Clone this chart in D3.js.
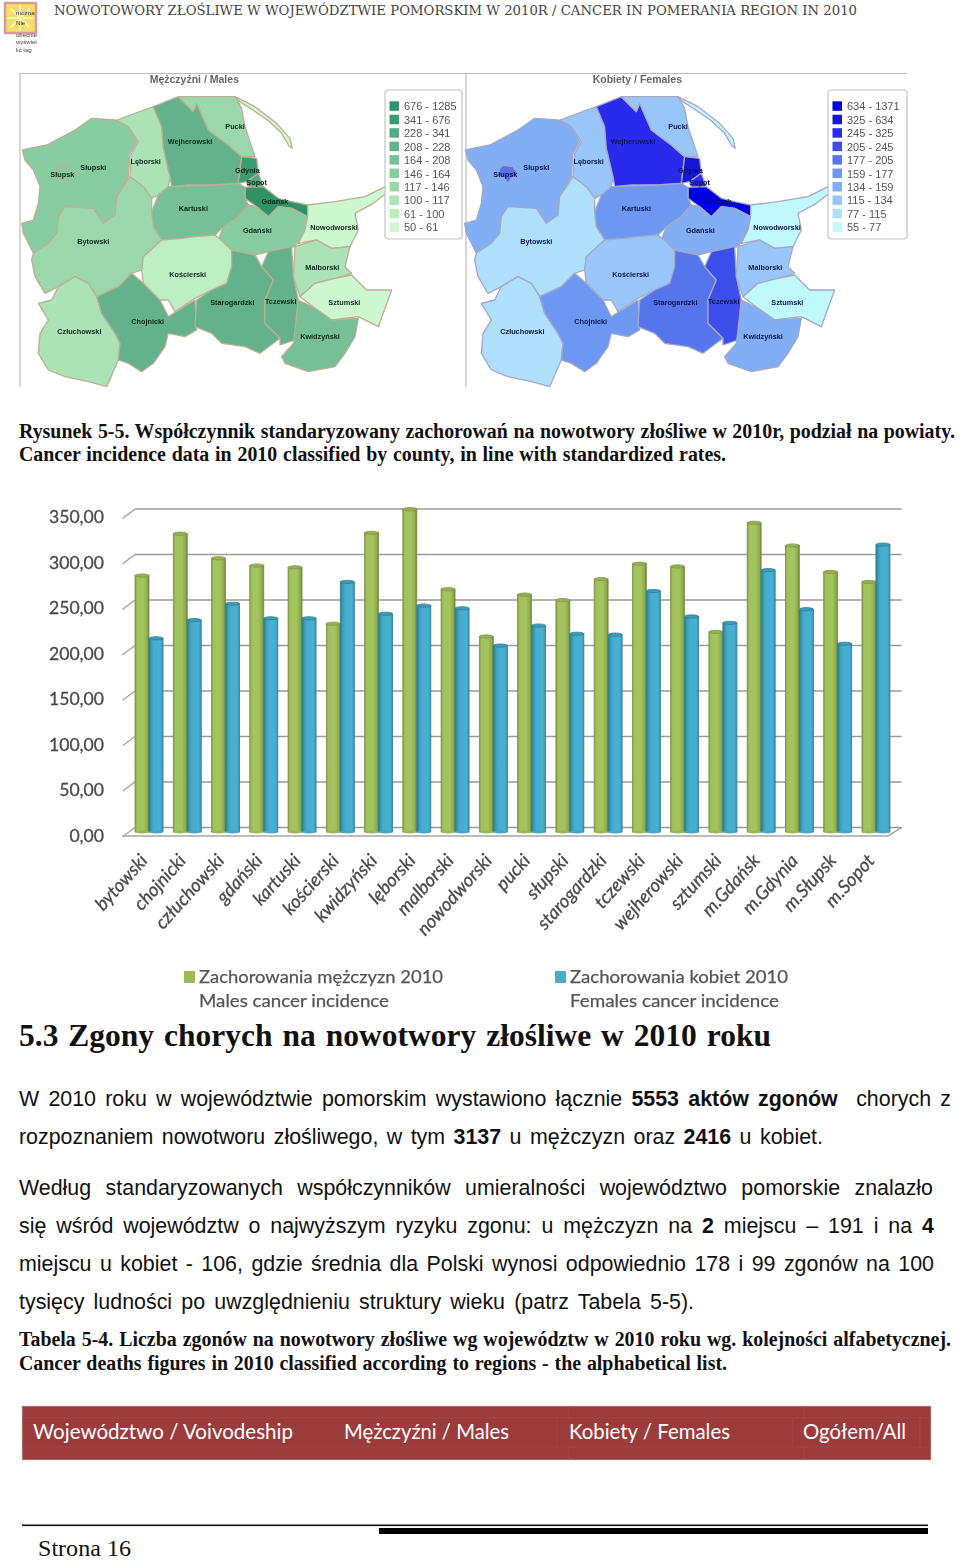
<!DOCTYPE html>
<html><head><meta charset="utf-8">
<script src="https://cdn.jsdelivr.net/npm/d3@7"></script>
<style>html,body{margin:0;padding:0;background:#fff}svg{display:block}</style>
</head><body><svg id="page" width="960" height="1560"></svg>
<script>
// ---- bar chart data ----
const counties=["bytowski","chojnicki","człuchowski","gdański","kartuski","kościerski","kwidzyński","lęborski","malborski","nowodworski","pucki","słupski","starogardzki","tczewski","wejherowski","sztumski","m.Gdańsk","m.Gdynia","m.Słupsk","m.Sopot"];
const maleIncidence=[282,328,301,293,291,229,329,355,267,215,261,255,278,295,292,220,340,315,286,275];
const femaleIncidence=[213,233,251,235,235,275,240,249,246,205,227,218,217,265,237,230,288,245,207,316];
const yTicks=[0,50,100,150,200,250,300,350];
// ---- map legends ----
const maleLegend=["676 - 1285","341 - 676","228 - 341","208 - 228","164 - 208","146 - 164","117 - 146","100 - 117","61 - 100","50 - 61"];
const femaleLegend=["634 - 1371","325 - 634","245 - 325","205 - 245","177 - 205","159 - 177","134 - 159","115 - 134","77 - 115","55 - 77"];
const maleColors=["#2f9466","#3a9c70","#55a983","#63b28c","#76bf97","#88cda2","#9ad8ac","#abe3b6","#bdeec2","#cdf7cf"];
const femaleColors=["#0000e0","#1414d8","#2a2cec","#3d50ea","#5574ec","#6d98f2","#82aef6","#98c6fa","#aee0fc","#bff8fd"];
// ---- map geometry (map units) and class per county ----
const regions=[
 {n:"",m:9,f:9,p:[[660,80],[720,110],[785,160],[825,205],[832,235],[822,228],[800,190],[760,152],[710,118],[670,92]],l:[0,0]},
 {n:"Słupski",m:5,f:6,p:[[22,240],[95,225],[180,180],[230,145],[300,150],[340,170],[365,215],[345,250],[340,320],[305,380],[300,435],[265,460],[235,415],[150,410],[130,440],[125,490],[100,520],[55,550],[25,490],[20,460],[55,450],[70,400],[75,350],[55,300],[30,270]],l:[235,292]},
 {n:"Lęborski",m:7,f:7,p:[[305,150],[415,110],[440,170],[445,235],[465,320],[460,350],[430,375],[410,385],[385,350],[360,330],[345,320],[350,250],[370,215],[340,170]],l:[392,275]},
 {n:"Wejherowski",m:3,f:2,p:[[415,110],[490,80],[535,125],[545,100],[580,180],[640,225],[680,260],[670,340],[600,345],[520,345],[470,350],[465,320],[445,235],[440,170]],l:[525,215]},
 {n:"Pucki",m:6,f:7,p:[[490,80],[660,80],[680,115],[690,170],[720,260],[680,260],[640,225],[580,180],[545,100],[535,125]],l:[660,170]},
 {n:"Gdynia",m:1,f:1,p:[[680,260],[725,265],[730,310],[695,335],[670,340]],l:[697,300]},
 {n:"Sopot",m:2,f:2,p:[[695,335],[730,310],[745,350],[700,352]],l:[725,338]},
 {n:"Gdańsk",m:0,f:0,p:[[690,352],[745,350],[790,385],[830,395],[878,405],[878,440],[830,415],[790,410],[760,440],[725,410],[690,385]],l:[780,393]},
 {n:"Kartuski",m:4,f:5,p:[[470,350],[600,345],[670,340],[690,352],[690,385],[700,405],[670,440],[625,470],[600,495],[540,500],[500,505],[440,510],[415,470],[410,425],[430,375],[460,350]],l:[535,415]},
 {n:"Gdański",m:5,f:6,p:[[700,405],[725,410],[760,440],[790,410],[830,415],[878,440],[870,480],[840,530],[760,545],[720,555],[650,540],[612,505],[625,470],[670,440]],l:[727,480]},
 {n:"Nowodworski",m:9,f:9,p:[[878,405],[960,395],[1050,380],[1130,340],[1140,350],[1075,400],[1020,430],[1030,480],[1005,530],[950,535],[905,510],[850,520],[870,480],[878,440]],l:[957,473]},
 {n:"Bytowski",m:6,f:8,p:[[345,320],[385,350],[410,385],[410,425],[415,470],[440,510],[385,560],[380,600],[350,610],[310,650],[245,680],[220,640],[180,620],[130,650],[90,670],[60,620],[50,570],[55,550],[100,520],[125,490],[130,440],[150,410],[235,415],[265,460],[300,435],[305,380]],l:[235,515]},
 {n:"Człuchowski",m:7,f:8,p:[[180,620],[220,640],[245,680],[260,730],[300,790],[315,820],[310,870],[275,950],[220,935],[150,920],[100,900],[70,850],[75,790],[100,750],[70,700],[110,690],[130,650]],l:[193,785]},
 {n:"Chojnicki",m:3,f:5,p:[[350,610],[385,640],[435,690],[460,740],[540,690],[545,780],[510,800],[460,790],[450,830],[415,880],[380,905],[340,880],[310,870],[315,820],[300,790],[260,730],[245,680],[310,650]],l:[398,755]},
 {n:"Kościerski",m:8,f:7,p:[[440,510],[500,505],[540,500],[600,495],[612,505],[650,540],[650,590],[635,640],[590,660],[540,685],[480,725],[460,690],[435,690],[385,640],[380,600],[385,560]],l:[518,613]},
 {n:"Starogardzki",m:3,f:4,p:[[650,540],[720,555],[740,590],[775,630],[750,690],[750,760],[795,805],[735,850],[690,830],[620,820],[590,790],[540,770],[545,690],[590,660],[635,640],[650,590]],l:[652,697]},
 {n:"Tczewski",m:3,f:3,p:[[760,545],[830,530],[835,620],[850,690],[840,810],[795,825],[795,805],[750,760],[750,690],[775,630],[740,590]],l:[797,693]},
 {n:"Malborski",m:7,f:7,p:[[840,530],[905,510],[950,535],[1005,530],[990,590],[1010,610],[960,625],[900,640],[855,680],[835,620]],l:[922,591]},
 {n:"Sztumski",m:9,f:9,p:[[855,680],[900,640],[960,625],[1010,615],[1055,660],[1130,660],[1090,770],[1030,740],[950,750],[900,715]],l:[988,697]},
 {n:"Kwidzyński",m:4,f:6,p:[[850,690],[900,715],[950,750],[1030,745],[1020,800],[990,850],[960,890],[880,905],[810,880],[800,860],[835,820],[840,780]],l:[915,798]},
 {n:"Słupsk",m:5,f:4,p:[[125,295],[135,285],[165,290],[180,310],[160,325],[150,342],[140,325],[120,318]],l:[142,312]}
];
const headerTitle="NOWOTOWORY ZŁOŚLIWE W WOJEWÓDZTWIE POMORSKIM W 2010R / CANCER IN POMERANIA REGION IN 2010";

const svg=d3.select("#page");
const defs=svg.append("defs");
function blur(id,s){defs.append("filter").attr("id",id).attr("x","-5%").attr("y","-5%").attr("width","110%").attr("height","110%")
  .append("feGaussianBlur").attr("stdDeviation",s);}
blur("soft",0.6);blur("mapBlur",0.6);blur("labBlur",0.35);

function grad(id,stops){const g=defs.append("linearGradient").attr("id",id).attr("x1",0).attr("x2",1).attr("y1",0).attr("y2",0);
  stops.forEach(s=>g.append("stop").attr("offset",s[0]).attr("stop-color",s[1]));}
grad("gGreen",[[0,"#7f9a45"],[.14,"#a2c05c"],[.6,"#a6c45e"],[.88,"#8cab4c"],[1,"#5f7d36"]]);
grad("gBlue",[[0,"#2d7a8e"],[.2,"#3f9fbb"],[.35,"#45adcf"],[.8,"#48b0d2"],[1,"#3a93b0"]]);

// ---- header ----
const ic=svg.append("g").attr("filter","url(#labBlur)");
ic.append("rect").attr("x",5).attr("y",3).attr("width",31).attr("height",30).attr("fill","#f2df6a").attr("stroke","#d79a9f").attr("stroke-width",2.5);
const icRay=d3.range(0,8).map(i=>i*Math.PI/4);
ic.selectAll("line").data(icRay).join("line").attr("x1",20).attr("y1",18).attr("x2",d=>20+13*Math.cos(d)).attr("y2",d=>18+13*Math.sin(d)).attr("stroke","#faf3b8").attr("stroke-width",2);
[["można",16,15],["Nie",16,25]].forEach(t=>ic.append("text").attr("x",t[1]).attr("y",t[2]).attr("font-family","Liberation Sans").attr("font-size",6.2).attr("fill","#333").text(t[0]));
[["obecnie",16,37],["wyświet",16,44],["lić tag",16,52]].forEach(t=>ic.append("text").attr("x",t[1]).attr("y",t[2]).attr("font-family","Liberation Sans").attr("font-size",6).attr("fill","#444").text(t[0]));
svg.append("text").attr("x",54).attr("y",15).attr("font-family","DejaVu Serif").attr("font-size",13).attr("fill","#444")
  .attr("textLength",803).attr("lengthAdjust","spacingAndGlyphs").text(headerTitle);

// ---- maps ----
const mapG=svg.append("g").attr("filter","url(#mapBlur)");
mapG.append("path").attr("d","M20 387V73.5H907M466 73.5V387").attr("fill","none").attr("stroke","#bdbdbd").attr("stroke-width",1.2);
const mx=d3.scaleLinear().domain([0,1140]).range([0,380]);
const my=d3.scaleLinear().domain([0,960]).range([0,320]);
const poly=d3.line().x(d=>mx(d[0])).y(d=>my(d[1])).curve(d3.curveLinearClosed);
function drawMap(dx,key,colors,legend,stroke,title,legendDx,textDx){
  const g=mapG.append("g").attr("transform",`translate(${dx},70)`);
  g.selectAll("path").data(regions).join("path").attr("d",d=>poly(d.p)).attr("fill",d=>colors[d[key]]).attr("stroke",stroke).attr("stroke-width",1.3).attr("stroke-linejoin","round");
  g.selectAll("text.r").data(regions.filter(d=>d.n)).join("text").attr("class","r").attr("x",d=>mx(d.l[0])).attr("y",d=>my(d.l[1])+2.5)
   .attr("text-anchor","middle").attr("font-family","Liberation Sans").attr("font-weight","bold").attr("font-size",7.3).attr("fill",key==="m"?"#0c2a1a":"#0a1850").text(d=>d.n);
  g.append("text").attr("x",mx(538)).attr("y",my(40)).attr("text-anchor","middle").attr("font-family","Liberation Sans").attr("font-size",10.5).attr("font-weight","bold").attr("fill","#666").text(title);
  const lg=mapG.append("g").attr("transform",`translate(${legendDx},0)`);
  lg.append("rect").attr("x",385).attr("y",90).attr("width",key==="m"?77:79).attr("height",149).attr("rx",3).attr("fill","#fff").attr("stroke","#c4c4c4").attr("stroke-width",1.2);
  const ly=d3.scaleBand().domain(d3.range(10)).range([99.5,234]);
  lg.selectAll("rect.s").data(legend).join("rect").attr("class","s").attr("x",389.5).attr("y",(d,i)=>ly(i)+1.8).attr("width",9.5).attr("height",9.5).attr("fill",(d,i)=>colors[i]);
  lg.selectAll("text.t").data(legend).join("text").attr("class","t").attr("x",404+textDx).attr("y",(d,i)=>ly(i)+10.8).attr("font-family","Liberation Sans").attr("font-size",11).attr("fill","#555").text(d=>d);
}
drawMap(15,"m",maleColors,maleLegend,"#bdae96","Mężczyźni / Males",0,0);
drawMap(458,"f",femaleColors,femaleLegend,"#a7a7c4","Kobiety / Females",443,0);

// ---- captions and body text ----
const textLines=[
 {y:438,w:936,f:"Liberation Serif",s:19.9,t:[["Rysunek 5-5. Współczynnik standaryzowany zachorowań na nowotwory złośliwe w 2010r, podział na powiaty.",1]]},
 {y:461,w:707,f:"Liberation Serif",s:19.9,t:[["Cancer incidence data in 2010 classified by county, in line with standardized rates.",1]]},
 {y:1046,w:752,f:"Liberation Serif",s:31.5,t:[["5.3 Zgony chorych na nowotwory złośliwe w 2010 roku",1]]},
 {y:1105.5,w:932,f:"Liberation Sans",s:21.4,t:[["W 2010 roku w województwie pomorskim wystawiono łącznie ",0],["5553 aktów zgonów",1],["  chorych z",0]]},
 {y:1143.5,w:804,f:"Liberation Sans",s:21.4,t:[["rozpoznaniem nowotworu złośliwego, w tym ",0],["3137",1],[" u mężczyzn oraz ",0],["2416",1],[" u kobiet.",0]]},
 {y:1194.5,w:914,f:"Liberation Sans",s:21.4,t:[["Według standaryzowanych współczynników umieralności województwo pomorskie znalazło",0]]},
 {y:1232.5,w:915,f:"Liberation Sans",s:21.4,t:[["się wśród województw o najwyższym ryzyku zgonu: u mężczyzn na ",0],["2",1],[" miejscu – 191 i na ",0],["4",1]]},
 {y:1270.5,w:915,f:"Liberation Sans",s:21.4,t:[["miejscu u kobiet - 106, gdzie średnia dla Polski wynosi odpowiednio 178 i 99 zgonów na 100",0]]},
 {y:1308.5,w:675,f:"Liberation Sans",s:21.4,t:[["tysięcy ludności po uwzględnieniu struktury wieku (patrz Tabela 5-5).",0]]},
 {y:1346,w:932,f:"Liberation Serif",s:19.9,t:[["Tabela 5-4. Liczba zgonów na nowotwory złośliwe wg województw w 2010 roku wg. kolejności alfabetycznej.",1]]},
 {y:1370,w:708,f:"Liberation Serif",s:19.9,t:[["Cancer deaths figures in 2010 classified according to regions - the alphabetical list.",1]]}
];
textLines.forEach(l=>{
  const te=svg.append("text").attr("x",19).attr("y",l.y).attr("font-family",l.f).attr("font-size",l.s).attr("fill","#111").style("white-space","pre");
  l.t.forEach(r=>te.append("tspan").attr("font-weight",r[1]?"bold":"normal").text(r[0]));
  const n=te.node(), len=n.getComputedTextLength(), spaces=l.t.map(r=>r[0]).join("").split(" ").length-1;
  te.attr("word-spacing",(l.w-len)/spaces);
});

// ---- bar chart ----
const chartFont="Lato, 'Open Sans', sans-serif";
const chart=svg.append("g").attr("filter","url(#soft)");
const x=d3.scaleBand().domain(counties).range([129.87,895.07]).paddingInner(.268).paddingOuter(.134);
const xSeries=d3.scaleBand().domain(["m","f"]).range([0,x.bandwidth()]).padding(0);
const y=d3.scaleLinear().domain([0,350]).range([832,513.7]);
const depthDy=-4.6, labelDy=3.5;
// back-wall gridlines, depth stubs
const grid=chart.append("g");
grid.selectAll("line.g").data(yTicks).join("line").attr("class","g").attr("x1",135).attr("x2",901.7).attr("y1",d=>y(d)+depthDy).attr("y2",d=>y(d)+depthDy).attr("stroke","#9a9a9a").attr("stroke-width",1.5);
grid.selectAll("line.s").data(yTicks).join("line").attr("class","s").attr("x1",122.5).attr("x2",135).attr("y1",d=>y(d)+depthDy+9.3).attr("y2",d=>y(d)+depthDy).attr("stroke","#a8a8a8").attr("stroke-width",1.4);
// floor front edge
grid.append("path").attr("d",`M122.5 ${y(0)+4}H888L901.7 ${y(0)+depthDy}`).attr("fill","none").attr("stroke","#a5a5a5").attr("stroke-width",1.5);
// y axis
const yAxis=d3.axisLeft(y).tickValues(yTicks).tickSize(0).tickPadding(0).tickFormat(d=>d3.format(".2f")(d).replace(".",","));
const yg=chart.append("g").attr("transform",`translate(104,${labelDy})`).call(yAxis);
yg.select(".domain").remove();
yg.selectAll("text").attr("font-family",chartFont).attr("font-size",17.6).attr("fill","#4a4a4a").attr("stroke","#4a4a4a").attr("stroke-width",.3);
// bars
function drawBars(values,key,gradId,edge,top){
  const g=chart.append("g").selectAll("g").data(counties.map((c,i)=>({c,v:values[i]}))).join("g");
  const bx=d=>x(d.c)+xSeries(key), w=xSeries.bandwidth();
  g.append("rect").attr("x",bx).attr("y",d=>y(d.v)).attr("width",w).attr("height",d=>y(0)-y(d.v)).attr("fill",`url(#${gradId})`).attr("stroke",edge).attr("stroke-width",.8);
  g.append("ellipse").attr("cx",d=>bx(d)+w/2).attr("cy",d=>y(d.v)).attr("rx",w/2).attr("ry",1.6).attr("fill",top).attr("stroke",edge).attr("stroke-width",.8);
  g.append("ellipse").attr("cx",d=>bx(d)+w/2).attr("cy",y(0)).attr("rx",w/2).attr("ry",1.4).attr("fill",gradId==="gGreen"?"#9ab955":"#44a8c8");
}
drawBars(maleIncidence,"m","gGreen","#7d9645","#94b252");
drawBars(femaleIncidence,"f","gBlue","#2d7f94","#3d9cb8");
// x axis
const xAxis=d3.axisBottom(x).tickSize(0).tickPadding(0);
const xg=chart.append("g").attr("transform","translate(0,858)").call(xAxis);
xg.select(".domain").remove();
xg.selectAll("text").attr("font-family",chartFont).attr("font-style","italic").attr("font-size",18.5).attr("fill","#4a4a4a").attr("stroke","#4a4a4a").attr("stroke-width",.3)
  .attr("text-anchor","end").attr("dy",0).attr("transform","translate(-4,0) rotate(-48)").attr("y",5);
// legend
const legendRows=[
 {sx:184,c:"#9bbb59",a:"Zachorowania mężczyzn 2010",b:"Males cancer incidence",tx:199,wa:244,wb:190},
 {sx:555,c:"#4bacc6",a:"Zachorowania kobiet 2010",b:"Females cancer incidence",tx:570,wa:218,wb:209}];
legendRows.forEach(r=>{
  chart.append("rect").attr("x",r.sx).attr("y",971).attr("width",11).attr("height",12).attr("fill",r.c);
  [[r.a,983,r.wa],[r.b,1007,r.wb]].forEach(t=>chart.append("text").attr("x",r.tx).attr("y",t[1]).attr("font-family",chartFont).attr("font-size",18).attr("fill","#555").attr("stroke","#555").attr("stroke-width",.25)
    .attr("textLength",t[2]).attr("lengthAdjust","spacingAndGlyphs").text(t[0]));
});

// ---- table header ----
const tableCols=[["Województwo / Voivodeship",33,260],["Mężczyźni / Males",344,165],["Kobiety / Females",569,161],["Ogółem/All",803,103]];
const tb=svg.append("g");
tb.append("rect").attr("x",22).attr("y",1406).attr("width",909).attr("height",54).attr("fill","#9c3b3b").attr("stroke","#e8c9c9").attr("stroke-width",.6);
[1418,1447].forEach(v=>tb.append("line").attr("x1",22).attr("x2",931).attr("y1",v).attr("y2",v).attr("stroke","#a84b4b").attr("stroke-width",.8));
[569,804].forEach(v=>tb.append("line").attr("x1",v).attr("x2",v).attr("y1",1406).attr("y2",1418).attr("stroke","#a84b4b").attr("stroke-width",.8));
[557,793,920].forEach(v=>tb.append("line").attr("x1",v).attr("x2",v).attr("y1",1418).attr("y2",1447).attr("stroke","#a84b4b").attr("stroke-width",.8));
[569,804].forEach(v=>tb.append("line").attr("x1",v).attr("x2",v).attr("y1",1447).attr("y2",1460).attr("stroke","#a84b4b").attr("stroke-width",.8));
tb.selectAll("text").data(tableCols).join("text").attr("x",d=>d[1]).attr("y",1439).attr("font-family",chartFont).attr("font-size",21).attr("fill","#fff")
  .attr("textLength",d=>d[2]).attr("lengthAdjust","spacingAndGlyphs").text(d=>d[0]);

// ---- footer ----
svg.append("rect").attr("x",22).attr("y",1524.5).attr("width",906).attr("height",1.6).attr("fill","#111");
svg.append("rect").attr("x",379).attr("y",1528).attr("width",549).attr("height",6).attr("fill","#000");
svg.append("text").attr("x",38).attr("y",1556).attr("font-family","Liberation Serif").attr("font-size",23).attr("fill","#111").attr("textLength",93).attr("lengthAdjust","spacingAndGlyphs").text("Strona 16");
</script></body></html>
